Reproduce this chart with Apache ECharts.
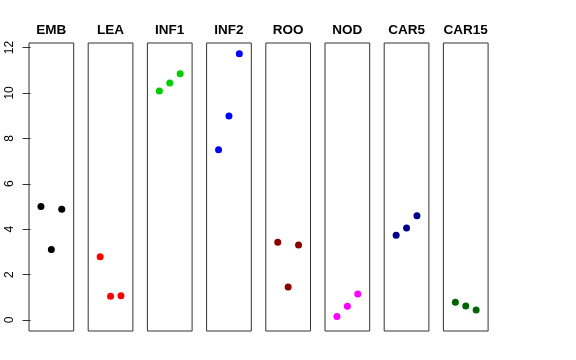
<!DOCTYPE html>
<html><head><meta charset="utf-8">
<script src="https://cdn.jsdelivr.net/npm/echarts@6/dist/echarts.min.js"></script>
<style>html,body{margin:0;padding:0;background:#fff}#c{width:576px;height:360px}</style>
</head><body><div id="c"></div>
<script>
var categories = ["EMB","LEA","INF1","INF2","ROO","NOD","CAR5","CAR15"];
var colors = ["#000000","#FF0000","#00CD00","#0000FF","#8B0000","#FF00FF","#00008B","#006400"];
var EMB = [5.00, 3.11, 4.88];
var LEA = [2.78, 1.05, 1.07];
var INF1 = [10.09, 10.44, 10.85];
var INF2 = [7.50, 8.99, 11.73];
var ROO = [3.42, 1.45, 3.30];
var NOD = [0.15, 0.60, 1.15];
var CAR5 = [3.73, 4.05, 4.59];
var CAR15 = [0.78, 0.62, 0.44];
var yTicks = [0, 2, 4, 6, 8, 10, 12];
var values = [EMB, LEA, INF1, INF2, ROO, NOD, CAR5, CAR15];

var grids = [], xAxes = [], yAxes = [], series = [], titles = [];
for (var i = 0; i < categories.length; i++) {
  var left = 29 + 59.2 * i;
  grids.push({left: left, top: 43, width: 44.7, height: 288, show: true, borderColor: '#333', borderWidth: 1, backgroundColor: 'transparent'});
  xAxes.push({gridIndex: i, type: 'value', min: -0.15, max: 4.15, show: false});
  yAxes.push({
    gridIndex: i, type: 'value', min: -0.485, max: 12.2, interval: 2,
    show: i === 0,
    axisLine: {show: false},
    splitLine: {show: false},
    axisTick: {show: true, length: 8, lineStyle: {color: '#333'}, customValues: yTicks},
    axisLabel: {show: true, rotate: 90, margin: 13, fontSize: 12, color: '#000', fontFamily: 'Liberation Sans, Arial, sans-serif',
      customValues: yTicks, showMinLabel: true, showMaxLabel: true}
  });
  series.push({
    type: 'scatter', xAxisIndex: i, yAxisIndex: i,
    symbolSize: 7, itemStyle: {color: colors[i], opacity: 1},
    data: values[i].map(function(v, k){ return [k + 1, v]; }),
    silent: true, animation: false
  });
  titles.push({text: categories[i], left: left + 22.35, top: 23, padding: 0, textAlign: 'center',
    textStyle: {fontSize: 13.5, fontWeight: 'bold', color: '#000', fontFamily: 'Liberation Sans, Arial, sans-serif'}});
}
var chart = echarts.init(document.getElementById('c'), null, {renderer: 'canvas'});
chart.setOption({animation: false, title: titles, grid: grids, xAxis: xAxes, yAxis: yAxes, series: series});
</script></body></html>
